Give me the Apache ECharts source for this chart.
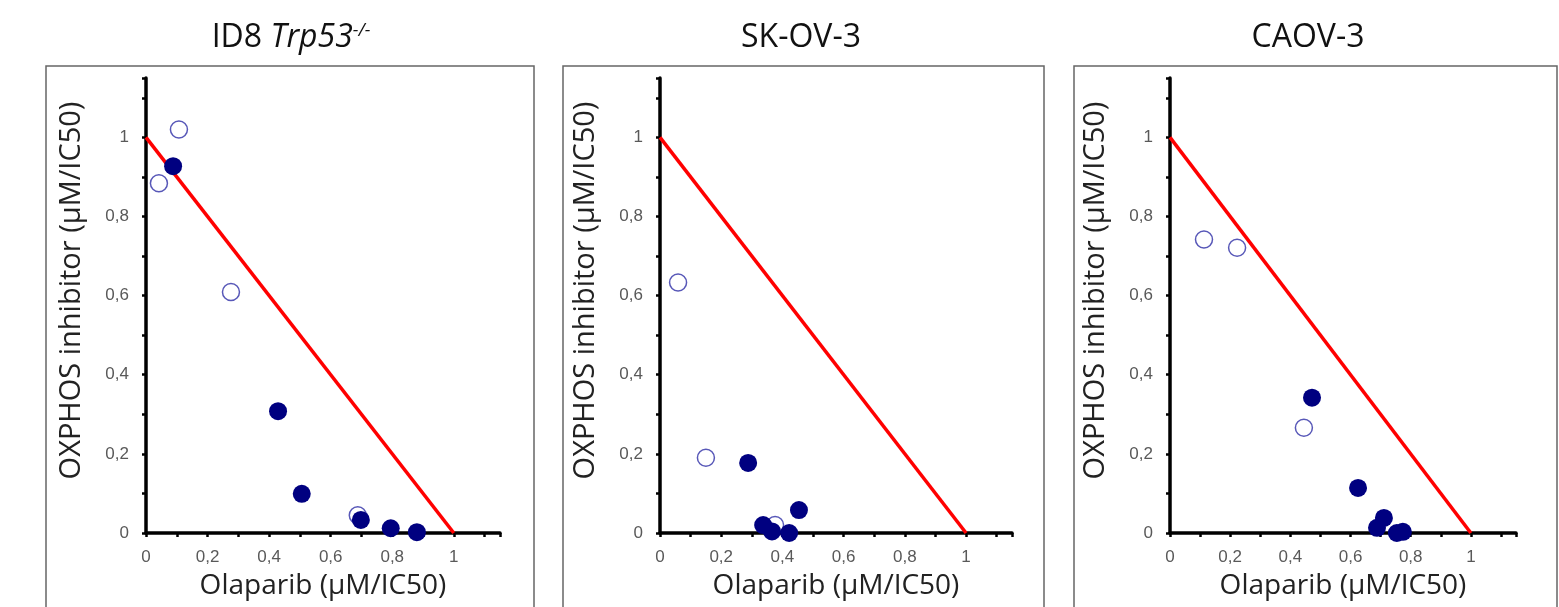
<!DOCTYPE html>
<html>
<head>
<meta charset="utf-8">
<script src="https://cdn.jsdelivr.net/npm/echarts@6/dist/echarts.min.js"></script>
<style>
  html, body { margin: 0; padding: 0; background: #fff; }
  #chart { width: 1559px; height: 607px; }
</style>
</head>
<body>
<div id="chart"></div>
<script>
// data: [olaparib, oxphos inhibitor] in uM/IC50
const id8Open = [[0.107, 1.02], [0.042, 0.884], [0.276, 0.609], [0.688, 0.045]]
const id8Filled = [[0.088, 0.927], [0.429, 0.308], [0.506, 0.099], [0.698, 0.033], [0.795, 0.012], [0.88, 0.002]]
const skov3Open = [[0.059, 0.633], [0.150, 0.190], [0.376, 0.02]]
const skov3Filled = [[0.288, 0.177], [0.337, 0.02], [0.366, 0.004], [0.422, 0.0], [0.454, 0.058]]
const caov3Open = [[0.113, 0.742], [0.223, 0.721], [0.445, 0.266]]
const caov3Filled = [[0.472, 0.342], [0.625, 0.114], [0.688, 0.013], [0.711, 0.038], [0.754, 0.0], [0.774, 0.003]]
const additivity = [[0, 1], [1, 0]]
const tickValues = [0, 0.2, 0.4, 0.6, 0.8, 1]

const panels = [
  { open: id8Open, filled: id8Filled, left: 146, width: 354 },
  { open: skov3Open, filled: skov3Filled, left: 660, width: 352 },
  { open: caov3Open, filled: caov3Filled, left: 1170, width: 346 }
]

const labelFmt = v => {
  const hit = tickValues.find(t => Math.abs(t - v) < 1e-6)
  return hit === undefined ? '' : String(hit).replace('.', ',')
}

const axisCommon = {
  type: 'value', min: 0, max: 1.15, interval: 0.1,
  splitLine: { show: false },
  axisLine: { lineStyle: { color: '#000', width: 3.5 } },
  axisTick: { length: 4, lineStyle: { color: '#000', width: 2.5 } },
  axisLabel: { formatter: labelFmt, color: '#595959', fontFamily: 'Liberation Sans', fontSize: 17 }
}

const grid = [], xAxis = [], yAxis = [], series = []
panels.forEach((p, i) => {
  grid.push({ left: p.left, top: 78, width: p.width, height: 455 })
  xAxis.push({
    ...axisCommon, gridIndex: i,
    axisLabel: { ...axisCommon.axisLabel, margin: 16 },
    name: 'Olaparib (µM/IC50)', nameLocation: 'middle', nameGap: 39,
    nameTextStyle: { fontFamily: 'Open Sans', fontSize: 28, color: '#222' }
  })
  yAxis.push({
    ...axisCommon, gridIndex: i,
    axisLabel: { ...axisCommon.axisLabel, margin: 17 },
    name: 'OXPHOS inhibitor (µM/IC50)', nameLocation: 'middle', nameGap: 60,
    nameTextStyle: { fontFamily: 'Open Sans', fontSize: 29, color: '#222', padding: [0, 0, 0, 30] }
  })
  series.push({
    type: 'line', xAxisIndex: i, yAxisIndex: i, data: additivity,
    symbol: 'none', lineStyle: { color: '#ff0000', width: 3.5 }, z: 2
  })
  series.push({
    type: 'scatter', xAxisIndex: i, yAxisIndex: i, data: p.open,
    symbol: 'circle', symbolSize: 17,
    itemStyle: { color: '#fff', borderColor: '#5858b8', borderWidth: 1.5, opacity: 1 }, z: 3
  })
  series.push({
    type: 'scatter', xAxisIndex: i, yAxisIndex: i, data: p.filled,
    symbolSize: 18, itemStyle: { color: '#000080', opacity: 1 }, z: 4
  })
})

const frames = [[46, 534], [563, 1044], [1074, 1557]].map(([a, b]) => ({
  type: 'rect', shape: { x: a, y: 66, width: b - a, height: 600 },
  style: { fill: 'none', stroke: '#666', lineWidth: 1.5 }, silent: true
}))

const titleFont = { fontFamily: 'Open Sans', fontSize: 32, fill: '#111' }
const titles = [
  {
    type: 'text', x: 291, y: 38,
    style: {
      text: '{a|ID8 }{b|Trp53}{c|-/-}', align: 'center', verticalAlign: 'middle',
      rich: {
        a: { ...titleFont },
        b: { ...titleFont, fontStyle: 'italic' },
        c: { fontFamily: 'Open Sans', fontSize: 18, fill: '#111', fontStyle: 'italic', verticalAlign: 'top' }
      }
    }
  },
  { type: 'text', x: 801, y: 38, style: { text: 'SK-OV-3', align: 'center', verticalAlign: 'middle', ...titleFont } },
  { type: 'text', x: 1308, y: 38, style: { text: 'CAOV-3', align: 'center', verticalAlign: 'middle', ...titleFont } }
]

const chart = echarts.init(document.getElementById('chart'))
chart.setOption({
  animation: false,
  grid, xAxis, yAxis, series,
  graphic: [...frames, ...titles]
})
</script>
</body>
</html>
